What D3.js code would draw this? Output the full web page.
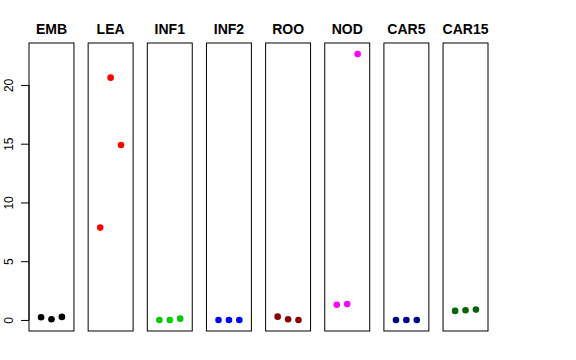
<!DOCTYPE html>
<html>
<head>
<meta charset="utf-8">
<script src="https://cdn.jsdelivr.net/npm/d3@7"></script>
<style>
  body { margin: 0; background: #fff; }
  text { font-family: "Liberation Sans", Arial, Helvetica, sans-serif; }
</style>
</head>
<body>
<svg id="chart" width="576" height="360"></svg>
<script>
// panel names and colours
const groups = ["EMB", "LEA", "INF1", "INF2", "ROO", "NOD", "CAR5", "CAR15"];
const colors = ["#000000", "#ff0000", "#00cd00", "#0000ff", "#8b0000", "#ff00ff", "#00008b", "#006400"];

// three replicate values per panel
const EMB   = [0.23, 0.06, 0.26];
const LEA   = [7.86, 20.62, 14.89];
const INF1  = [0.0, 0.0, 0.11];
const INF2  = [0.0, 0.0, 0.0];
const ROO   = [0.28, 0.06, 0.0];
const NOD   = [1.3, 1.36, 22.64];
const CAR5  = [0.0, 0.0, 0.0];
const CAR15 = [0.77, 0.83, 0.88];
const values = [EMB, LEA, INF1, INF2, ROO, NOD, CAR5, CAR15];

const yTicks = [0, 5, 10, 15, 20];

const svg = d3.select("#chart");

const plotTop = 43, plotBottom = 331;

const panel = d3.scaleBand()
  .domain(groups)
  .range([29, 488])
  .paddingInner(0.24)
  .paddingOuter(0);

const y = d3.scaleLinear()
  .domain([-0.94, 23.57])
  .range([plotBottom, plotTop]);

// x inside each panel: replicate 1..3 on a 0..4 range
const x = d3.scaleLinear()
  .domain([-0.16, 4.16])
  .range([0, panel.bandwidth()]);

groups.forEach((g, i) => {
  const p = svg.append("g")
    .attr("transform", `translate(${panel(g)},0)`);

  p.append("rect")
    .attr("x", 0)
    .attr("y", plotTop)
    .attr("width", panel.bandwidth())
    .attr("height", plotBottom - plotTop)
    .attr("fill", "none")
    .attr("stroke", "#000")
    .attr("stroke-width", 1);

  p.append("text")
    .attr("x", panel.bandwidth() / 2)
    .attr("y", 34)
    .attr("text-anchor", "middle")
    .attr("font-weight", "bold")
    .attr("font-size", 14)
    .text(g);

  p.selectAll("circle")
    .data(values[i])
    .enter()
    .append("circle")
    .attr("cx", (d, j) => x(j + 1))
    .attr("cy", d => y(d))
    .attr("r", 3.3)
    .attr("fill", colors[i]);
});

// y axis on the left edge of the first panel
const yAxis = d3.axisLeft(y)
  .tickValues(yTicks)
  .tickSize(8)
  .tickPadding(0)
  .tickFormat(d3.format("d"));

const ax = svg.append("g")
  .attr("transform", `translate(${panel(groups[0])},0)`)
  .call(yAxis);

ax.select(".domain")
  .attr("d", `M0,${y(0)}V${y(20)}`)
  .attr("stroke", "#000");

ax.selectAll(".tick line").attr("stroke", "#000");

ax.selectAll(".tick text")
  .attr("x", null)
  .attr("dy", null)
  .attr("text-anchor", "middle")
  .attr("font-size", 12)
  .attr("fill", "#000")
  .attr("transform", "translate(-16,0) rotate(-90)");
</script>
</body>
</html>
